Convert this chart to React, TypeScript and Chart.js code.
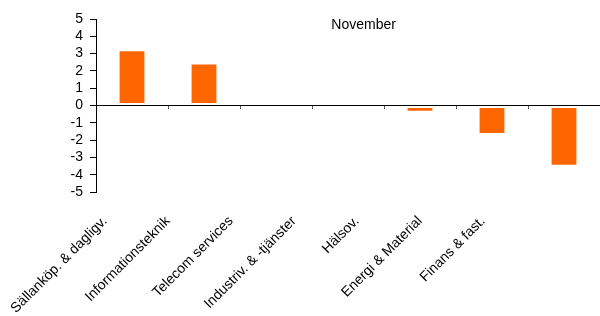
import React, { useEffect, useRef } from "react";
import { Chart, registerables } from "chart.js";

Chart.register(...registerables);

const categories = [
  "Sällanköp. & dagligv.",
  "Informationsteknik",
  "Telecom services",
  "Industriv. & -tjänster",
  "Hälsov.",
  "Energi & Material",
  "Finans & fast.",
];
const values = [3.25, 2.49, 0, 0, -0.42, -1.71, -3.54];
const yTicks = [-5, -4, -3, -2, -1, 0, 1, 2, 3, 4, 5];
const chartTitle = "November";

const FONT = '"Liberation Sans", Arial, sans-serif';

const titlePlugin = {
  id: "innerTitle",
  afterDraw(chart: any) {
    const { ctx, chartArea } = chart;
    ctx.save();
    ctx.font = `14px ${FONT}`;
    ctx.fillStyle = "#000";
    ctx.textAlign = "center";
    ctx.textBaseline = "middle";
    const x = chartArea.left + (chartArea.right - chartArea.left) * 0.531;
    ctx.fillText(chartTitle, x, chartArea.top + 6);
    ctx.restore();
  },
};

export default function App() {
  const ref = useRef<HTMLCanvasElement>(null);
  useEffect(() => {
    document.body.style.margin = "0";
    const chart = new Chart(ref.current!, {
      type: "bar",
      data: {
        labels: categories,
        datasets: [
          {
            data: values,
            backgroundColor: "#FF6600",
            borderColor: "#ffffff",
            borderWidth: 2,
            borderSkipped: false,
            barPercentage: 0.4,
            categoryPercentage: 1,
            xAxisID: "x",
          },
        ],
      },
      options: {
        responsive: false,
        animation: false,
        layout: { padding: { top: 19, right: 0, left: 0, bottom: 0 } },
        plugins: { legend: { display: false }, tooltip: { enabled: false }, title: { display: false } },
        scales: {
          x: {
            type: "category",
            position: { y: 0 } as any,
            offset: true,
            ticks: { display: false },
            grid: {
              offset: true,
              drawOnChartArea: false,
              drawTicks: true,
              tickLength: 3,
              tickColor: "#555",
            },
            border: { display: true, color: "#000", width: 1 },
          },
          x2: {
            type: "linear",
            position: "bottom",
            offset: false,
            min: -0.143,
            max: 7.857,
            afterBuildTicks: (scale: any) => {
              scale.ticks = categories.map((_, i) => ({ value: i }));
            },
            afterFit: (scale: any) => {
              scale.height = 124;
              scale.paddingLeft = 0;
              scale.paddingRight = 0;
            },
            ticks: {
              autoSkip: false,
              maxRotation: 45,
              minRotation: 45,
              padding: 21,
              color: "#000",
              font: { family: FONT, size: 14 },
              callback: (v: any) => categories[Math.round(Number(v))] ?? "",
            },
            grid: { display: false, drawTicks: false, offset: false },
            border: { display: false },
          },
          y: {
            min: -5,
            max: 5,
            afterBuildTicks: (scale: any) => {
              scale.ticks = yTicks.map((v) => ({ value: v }));
            },
            afterFit: (scale: any) => {
              scale.width = 96;
            },
            ticks: {
              autoSkip: false,
              padding: 7,
              color: "#000",
              font: { family: FONT, size: 14 },
            },
            grid: {
              drawOnChartArea: false,
              drawTicks: true,
              tickLength: 6,
              tickColor: "#000",
            },
            border: { display: true, color: "#000", width: 1 },
          },
        },
      },
      plugins: [titlePlugin],
    });
    return () => chart.destroy();
  }, []);
  return (
    <div style={{ width: 600, height: 316 }}>
      <canvas ref={ref} width={600} height={316} />
    </div>
  );
}
